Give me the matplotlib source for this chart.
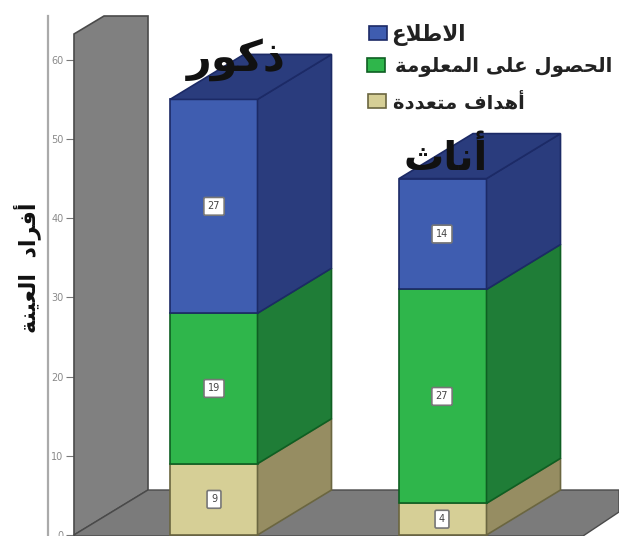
import matplotlib
matplotlib.use("Agg")
import matplotlib.pyplot as plt
from matplotlib.patches import Polygon

categories = ["ذكور", "أناث"]
series_names = ["أهداف متعددة", "الحصول على المعلومة", "الاطلاع"]
multi_goals = [9, 4]
get_info = [19, 27]
browse = [27, 14]
y_ticks = [0, 10, 20, 30, 40, 50, 60]
y_label = "أفراد العينة"

FORMS = {
    "ا": (0xFE8D, 0xFE8E, None, None), "أ": (0xFE83, 0xFE84, None, None),
    "ب": (0xFE8F, 0xFE90, 0xFE91, 0xFE92), "ة": (0xFE93, 0xFE94, None, None),
    "ت": (0xFE95, 0xFE96, 0xFE97, 0xFE98), "ث": (0xFE99, 0xFE9A, 0xFE9B, 0xFE9C),
    "ح": (0xFEA1, 0xFEA2, 0xFEA3, 0xFEA4), "د": (0xFEA9, 0xFEAA, None, None),
    "ذ": (0xFEAB, 0xFEAC, None, None), "ر": (0xFEAD, 0xFEAE, None, None),
    "ص": (0xFEB9, 0xFEBA, 0xFEBB, 0xFEBC), "ط": (0xFEC1, 0xFEC2, 0xFEC3, 0xFEC4),
    "ع": (0xFEC9, 0xFECA, 0xFECB, 0xFECC), "ف": (0xFED1, 0xFED2, 0xFED3, 0xFED4),
    "ك": (0xFED9, 0xFEDA, 0xFEDB, 0xFEDC), "ل": (0xFEDD, 0xFEDE, 0xFEDF, 0xFEE0),
    "م": (0xFEE1, 0xFEE2, 0xFEE3, 0xFEE4), "ن": (0xFEE5, 0xFEE6, 0xFEE7, 0xFEE8),
    "ه": (0xFEE9, 0xFEEA, 0xFEEB, 0xFEEC), "و": (0xFEED, 0xFEEE, None, None),
    "ى": (0xFEEF, 0xFEF0, None, None), "ي": (0xFEF1, 0xFEF2, 0xFEF3, 0xFEF4),
    "\uFEFB": (0xFEFB, 0xFEFC, None, None), "\uFEF7": (0xFEF7, 0xFEF8, None, None),
}


def shape(text):
    """Arabic logical order to joined presentation forms in visual order."""
    text = text.replace("لا", "\uFEFB").replace("لأ", "\uFEF7")
    out = []
    for i, ch in enumerate(text):
        f = FORMS.get(ch)
        if f is None:
            out.append(ch)
            continue
        prev = FORMS.get(text[i - 1]) if i > 0 else None
        nxt = FORMS.get(text[i + 1]) if i + 1 < len(text) else None
        join_prev = prev is not None and prev[2] is not None
        join_next = nxt is not None and f[2] is not None
        if join_prev and join_next:
            code = f[3]
        elif join_prev:
            code = f[1]
        elif join_next:
            code = f[2]
        else:
            code = f[0]
        out.append(chr(code))
    return "".join(reversed(out))


PX_PER_UNIT = 7.92
BASE_PX = 535
H = 536
W = 619


def val(py):
    return (BASE_PX - py) / PX_PER_UNIT


fig = plt.figure(figsize=(W / 100, H / 100), dpi=100)
ax = fig.add_axes([0, 0, 1, 1])
ax.set_xlim(0, W)
ax.set_ylim(val(H), val(0))
for s in ("top", "right", "bottom"):
    ax.spines[s].set_visible(False)
ax.spines["left"].set_position(("data", 74))
ax.spines["left"].set_visible(False)
ax.set_xticks([])
ax.set_yticks(y_ticks)
ax.tick_params(axis="y", direction="out", length=6, width=0.8, color="#777777",
               labelsize=7, labelcolor="#8a8a8a", pad=1.5)
ax.patch.set_alpha(0)

# outer axis line, back wall and floor
ax.plot([48, 48], [val(536), val(16)], color="#aaaaaa", lw=1.6, zorder=1)
GRAY = "#808080"
EDGE = "#4a4a4a"
ax.add_patch(Polygon([(74, val(535)), (74, val(34)), (104, val(16)), (148, val(16)),
                      (148, val(490))], fc=GRAY, ec=EDGE, lw=1.2, zorder=2))
ax.add_patch(Polygon([(74, val(535)), (148, val(490)), (619, val(490)), (619, val(512)),
                      (583, val(536)), (74, val(536))], fc="#7b7b7b", ec=EDGE, lw=1.0, zorder=2))

# bars
bar_left = [170, 399]
bar_width = 87.5
dx = 74
dy = 45 / PX_PER_UNIT
stack = [multi_goals, get_info, browse]
front = ["#d6cf96", "#2fb64b", "#3f5db0"]
side = ["#968d62", "#1f7d37", "#2a3c7d"]
edge = ["#6b6640", "#0e5f22", "#1c2a66"]
label_dx = [44, 43]

for c, left in enumerate(bar_left):
    bottom = 0
    for s, values in enumerate(stack):
        v = values[c]
        top = bottom + v
        ax.bar(left, v, bottom=bottom, width=bar_width, align="edge", color=front[s],
               edgecolor=edge[s], linewidth=1.2, zorder=3 + c)
        r = left + bar_width
        ax.add_patch(Polygon([(r, bottom), (r + dx, bottom + dy), (r + dx, top + dy), (r, top)],
                             fc=side[s], ec=edge[s], lw=1.2, zorder=3 + c))
        if s == len(stack) - 1:
            ax.add_patch(Polygon([(left, top), (r, top), (r + dx, top + dy), (left + dx, top + dy)],
                                 fc=side[s], ec=edge[s], lw=1.2, zorder=3 + c))
        ax.text(left + label_dx[c], bottom + v / 2, str(v), ha="center", va="center",
                fontsize=7, color="#444444", zorder=8,
                bbox=dict(boxstyle="round,pad=0.4,rounding_size=0.15", fc="white", ec="#777777", lw=1.2))
        bottom = top

# category headings
ax.text(236, val(60), shape(categories[0]), ha="center", va="center", fontsize=31,
        fontweight="bold", color="#111111", zorder=9)
ax.text(446, val(159), shape(categories[1]), ha="center", va="center", fontsize=29,
        fontweight="bold", color="#111111", zorder=9)

# legend
swatch_y = [101, 65, 33]
swatch_x = [368, 367, 369]
text_x = [525, 612, 466]
text_size = [14, 14.2, 15.5]
for i, name in enumerate(series_names):
    ax.bar(swatch_x[i], 14 / PX_PER_UNIT, bottom=val(swatch_y[i] + 7), width=18, align="edge",
           color=front[i], edgecolor=edge[i], linewidth=1.2, zorder=9)
    ax.text(text_x[i], val(swatch_y[i] + 2), shape(name), ha="right", va="center",
            fontsize=text_size[i], fontweight="bold", color="#222222", zorder=9)

ax.text(27, val(268), shape(y_label.replace(" ", "  ")), rotation=90, ha="center", va="center",
        fontsize=16, fontweight="bold", color="#111111", zorder=9)

fig.savefig("out.png", dpi=100)
